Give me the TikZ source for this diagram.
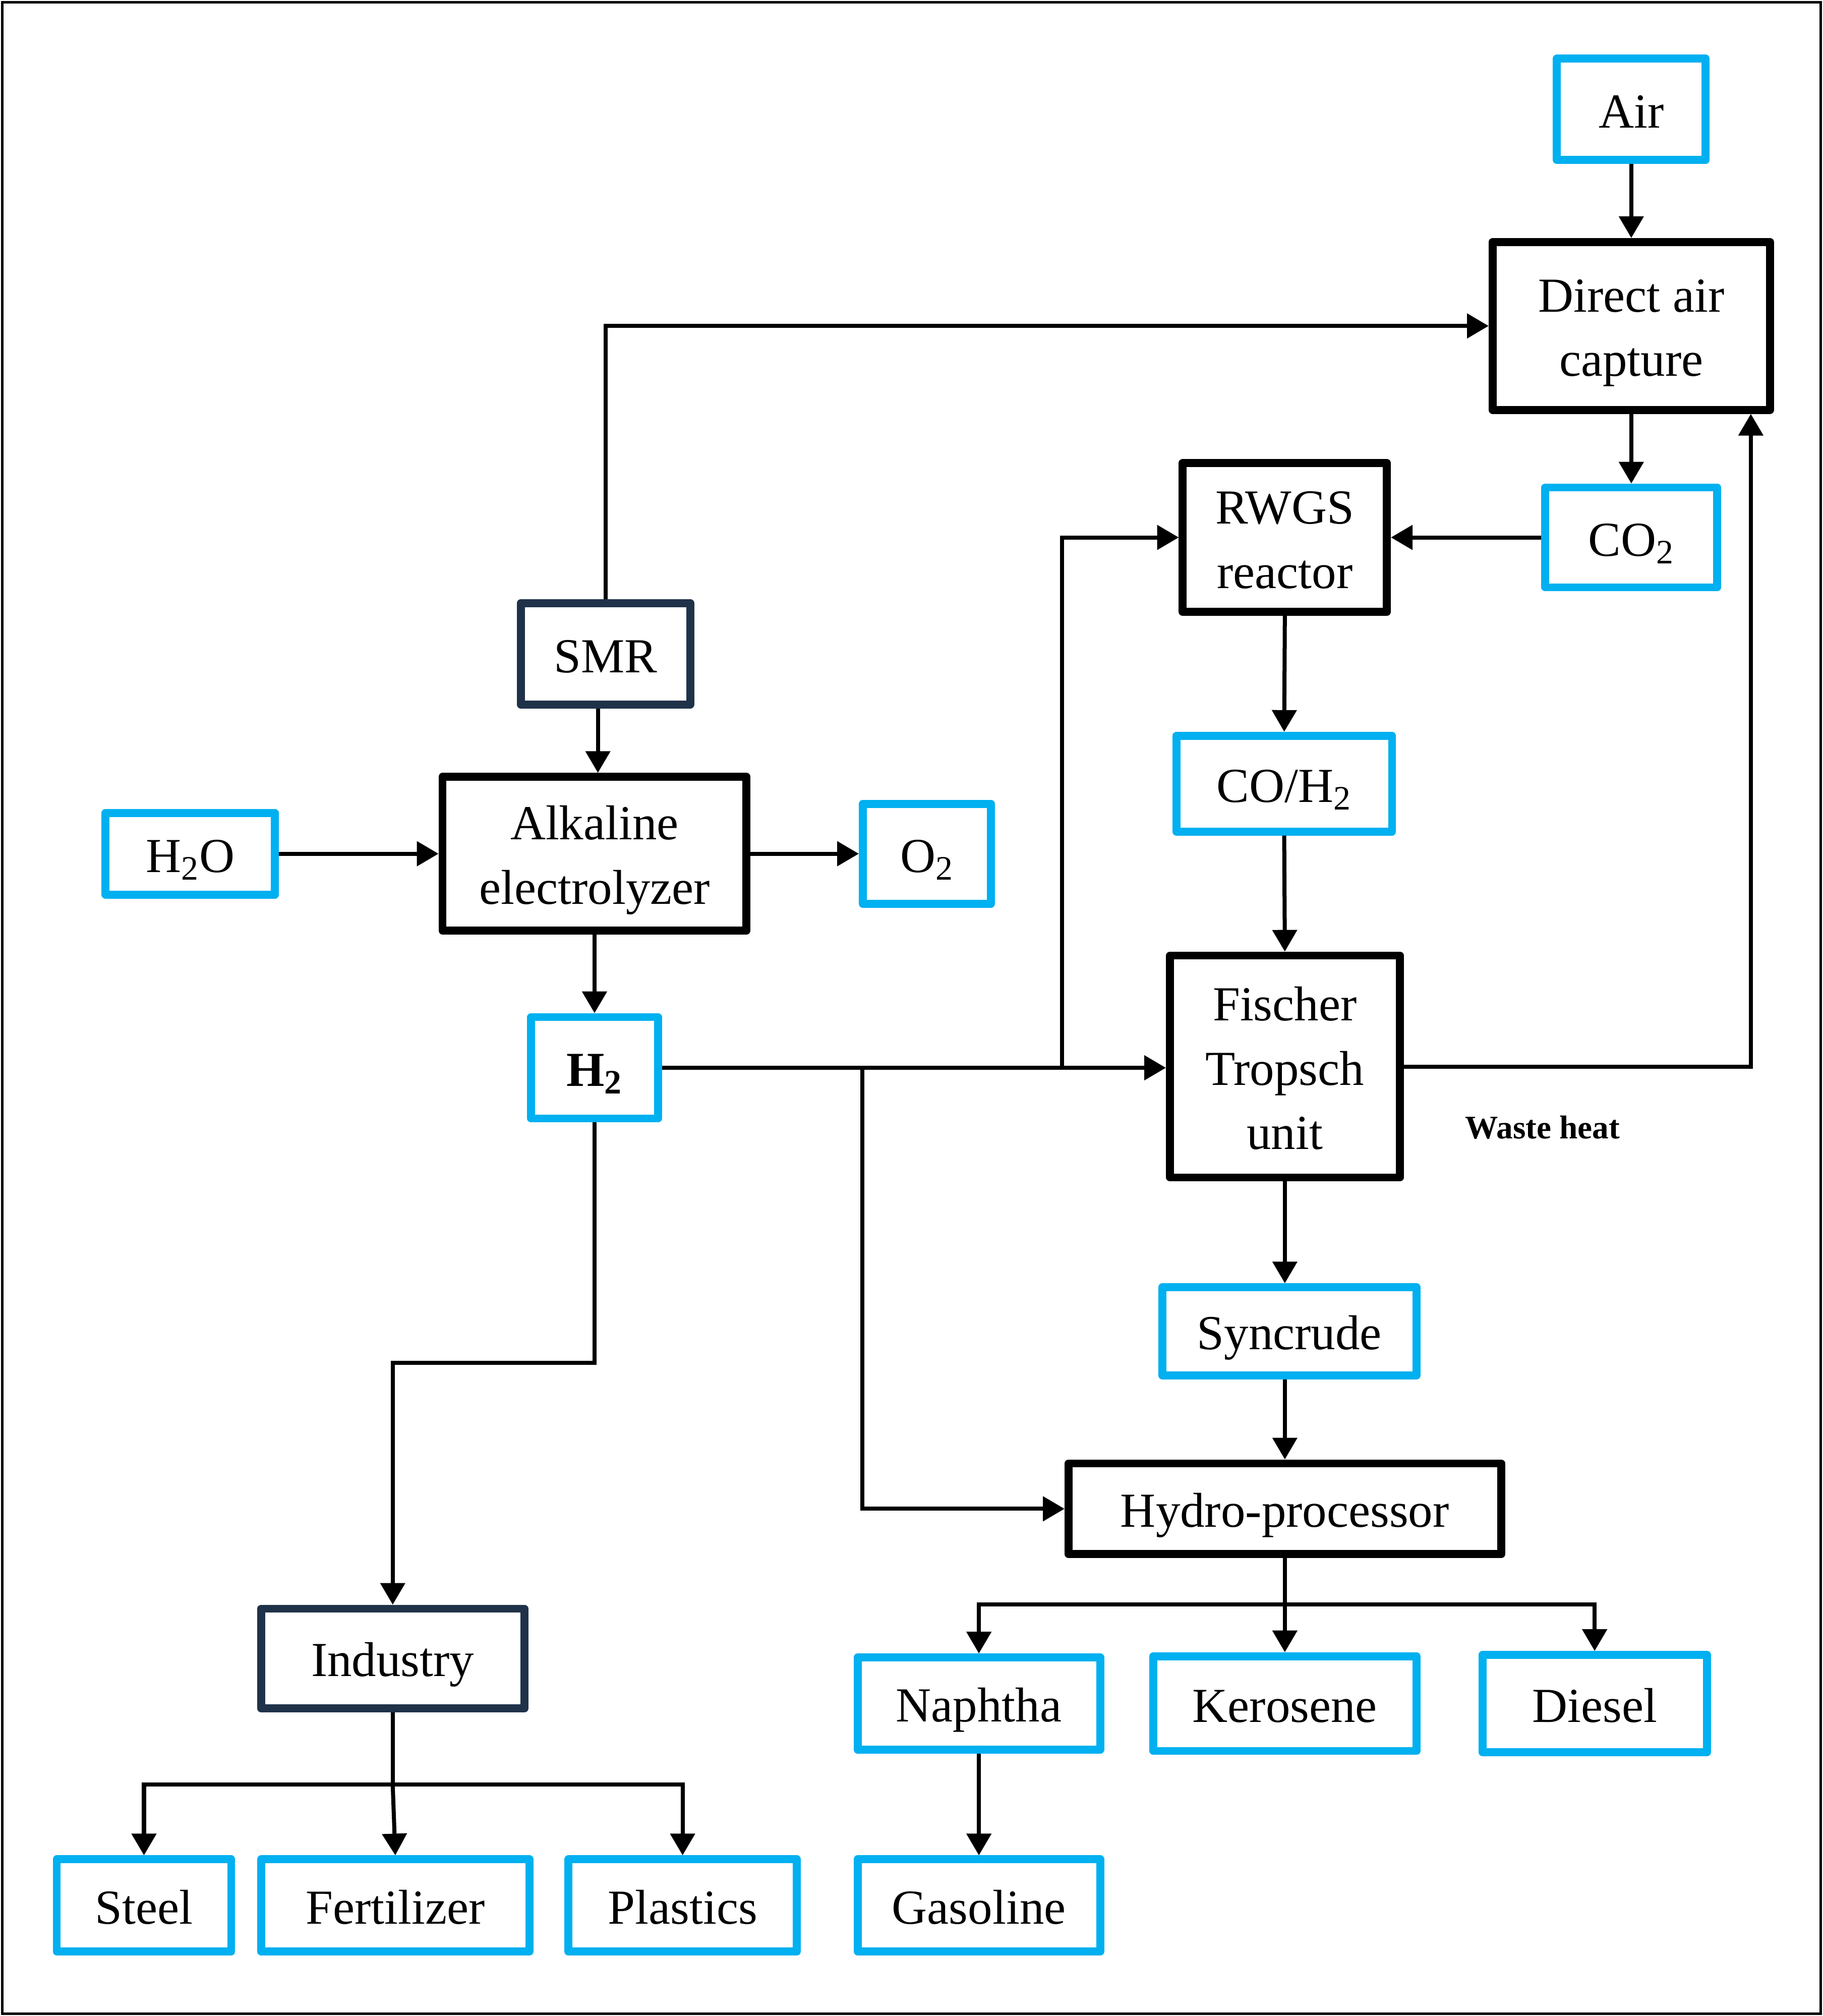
\documentclass[tikz,border=0pt]{standalone}
\usepackage{fontspec}
\setmainfont{Liberation Serif}
\usetikzlibrary{arrows.meta,calc}
\definecolor{cyanb}{RGB}{0,176,240}
\definecolor{navyb}{RGB}{31,50,73}
\newcommand{\lst}{\rule[-0.19em]{0pt}{1.14em}}
\begin{document}
\begin{tikzpicture}[x=0.02549cm,y=-0.02549cm,
  box/.style={draw, line width=4.5pt, line join=round, inner sep=0pt, align=center,
    font=\fontsize{27.6}{36.3}\selectfont, text=black},
  bbox/.style={box, draw=black},
  cbox/.style={box, draw=cyanb},
  nbox/.style={box, draw=navyb},
  arr/.style={line width=2.28pt, -{Triangle[length=0.43cm,width=0.48cm]}},
  ln/.style={line width=2.28pt},
]
\useasboundingbox (0,0) rectangle (1418,1568);
\draw[line width=1.4pt] (1.8,1.8) rectangle (1416.2,1566.2);
% nodes
\node[cbox, minimum width=2.95cm, minimum height=2.01cm] (air) at (1269,85) {\lst Air};
\node[bbox, minimum width=5.50cm, minimum height=3.33cm] (dac) at (1269,253.5) {\lst Direct air\\\lst capture};
\node[cbox, minimum width=3.41cm, minimum height=1.98cm] (co2) at (1269,418) {\lst CO\textsubscript{2}};
\node[bbox, minimum width=4.05cm, minimum height=2.95cm] (rwgs) at (999.5,418) {\lst RWGS\\\lst reactor};
\node[nbox, minimum width=3.36cm, minimum height=2.01cm] (smr) at (471,508.5) {\lst SMR};
\node[cbox, minimum width=3.36cm, minimum height=1.62cm] (h2o) at (148,664) {\lst H\textsubscript{2}O};
\node[bbox, minimum width=6.03cm, minimum height=3.05cm] (alk) at (462.5,664) {\lst Alkaline\\\lst electrolyzer};
\node[cbox, minimum width=2.54cm, minimum height=1.98cm] (o2) at (721,664) {\lst O\textsubscript{2}};
\node[cbox, minimum width=4.28cm, minimum height=1.90cm] (coh2) at (999,609.5) {\lst CO/H\textsubscript{2}};
\node[cbox, minimum width=2.52cm, minimum height=2.01cm] (h2) at (462.5,830.5) {\lst\textbf{H\textsubscript{2}}};
\node[bbox, minimum width=4.56cm, minimum height=4.40cm] (ft) at (999.5,829.5) {\lst Fischer\\\lst Tropsch\\\lst unit};
\node[cbox, minimum width=5.04cm, minimum height=1.75cm] (sync) at (1003,1035.5) {\lst Syncrude};
\node[bbox, minimum width=8.58cm, minimum height=1.80cm] (hp) at (999.5,1173.5) {\lst Hydro-processor};
\node[cbox, minimum width=4.81cm, minimum height=1.83cm] (naph) at (761.5,1325) {\lst Naphtha};
\node[cbox, minimum width=5.22cm, minimum height=1.88cm] (ker) at (999.5,1325) {\lst Kerosene};
\node[cbox, minimum width=4.45cm, minimum height=1.93cm] (dies) at (1240.5,1325) {\lst Diesel};
\node[cbox, minimum width=4.81cm, minimum height=1.83cm] (gas) at (761.5,1482) {\lst Gasoline};
\node[nbox, minimum width=5.22cm, minimum height=1.98cm] (ind) at (305.5,1290) {\lst Industry};
\node[cbox, minimum width=3.46cm, minimum height=1.83cm] (steel) at (112,1482) {\lst Steel};
\node[cbox, minimum width=5.32cm, minimum height=1.83cm] (fert) at (307.5,1482) {\lst Fertilizer};
\node[cbox, minimum width=4.53cm, minimum height=1.83cm] (plast) at (531,1482) {\lst Plastics};
\node[font=\bfseries\fontsize{18.6}{22}\selectfont] (waste) at (1200,877) {Waste heat};
% connectors
\draw[arr] (air.south) -- (dac.north);
\draw[arr] (dac.south) -- (co2.north);
\draw[arr] (co2.west) -- (rwgs.east);
\draw[arr] (smr.north) |- (dac.west);
\draw[arr] ([xshift=-0.15cm]smr.south) -- ([xshift=-0.15cm]smr.south |- alk.north);
\draw[arr] (h2o.east) -- (alk.west);
\draw[arr] (alk.east) -- (o2.west);
\draw[arr] (alk.south) -- (h2.north);
\draw[arr] (h2.east) -- (h2.east -| ft.west);
\coordinate (j1) at (826,830.5);
\coordinate (j2) at (671,830.5);
\draw[arr] (j1) |- (rwgs.west);
\draw[arr] (j2) |- (hp.west);
\coordinate (k1) at (462.5,1060);
\coordinate (k2) at (305.5,1060);
\draw[arr] (h2.south) -- (k1) -- (k2) -- (k2 |- ind.north);
\draw[arr] (rwgs.south) -- (coh2.north);
\draw[arr] (coh2.south) -- (ft.north);
\coordinate (wh) at (1362,829.5);
\draw[arr] (ft.east) -- (wh) -- (wh |- dac.south);
\draw[arr] (ft.south) -- (ft.south |- sync.north);
\draw[arr] (ft.south |- sync.south) -- (hp.north);
\coordinate (b1) at (999.5,1248);
\draw[ln] (hp.south) -- (b1);
\draw[arr] (b1) -| (naph.north);
\draw[arr] (b1) -- (ker.north);
\draw[arr] (b1) -| (dies.north);
\draw[arr] (naph.south) -- (gas.north);
\coordinate (b2) at (305.5,1388);
\draw[ln] (ind.south) -- (b2);
\draw[arr] (b2) -| (steel.north);
\draw[arr] (b2) -- (fert.north);
\draw[arr] (b2) -| (plast.north);
\end{tikzpicture}
\end{document}
